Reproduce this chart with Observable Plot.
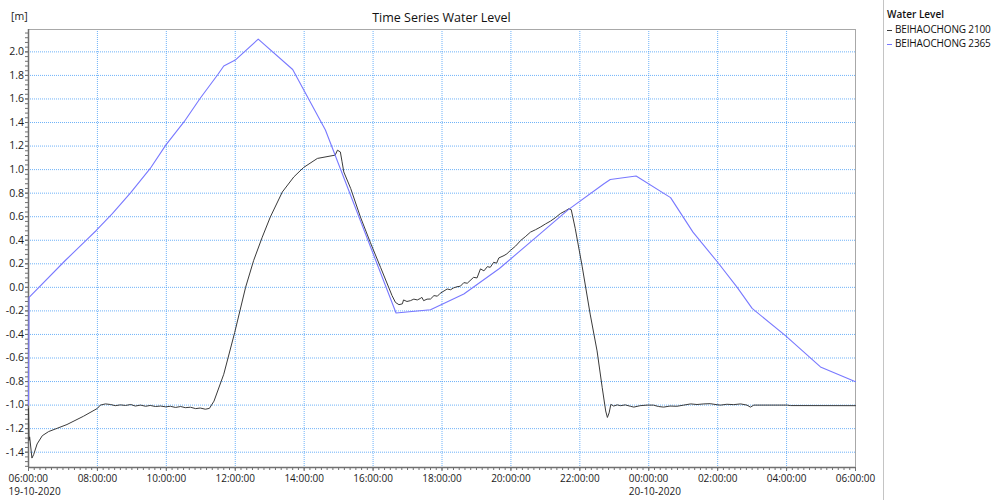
<!DOCTYPE html>
<html>
<head>
<meta charset="utf-8">
<script src="https://cdn.jsdelivr.net/npm/d3@7"></script>
<script src="https://cdn.jsdelivr.net/npm/@observablehq/plot@0.6"></script>
<style>
  body { margin: 0; background: #fff; font-family: "Open Sans", sans-serif; }
  #fig { position: relative; width: 997px; height: 500px; overflow: hidden; }
  #fig svg { position: absolute; left: 0; top: 0; }
  .title { position: absolute; left: 28px; width: 827px; top: 10px; text-align: center; font-size: 12.5px; line-height: 16px; color: #111; }
  .unit { position: absolute; left: 11px; top: 9px; font-size: 10.5px; line-height: 14px; color: #222; }
  #legend { position: absolute; left: 883px; top: 0; width: 114px; height: 500px; border-left: 1px solid #c4c4c4; font-size: 10px; line-height: 14px; color: #111; }
  #legend .head { position: absolute; left: 3px; top: 7px; font-weight: 600; }
  #legend .item { position: absolute; left: 3px; white-space: nowrap; letter-spacing: -0.15px; }
  #legend .sw { display: inline-block; width: 5px; height: 1px; vertical-align: middle; margin-right: 3px; }
</style>
</head>
<body>
<div id="fig">
  <div class="unit">[m]</div>
  <div class="title">Time Series Water Level</div>
  <div id="legend"><div class="head">Water Level</div></div>
</div>
<script>
// Series names and colours
const seriesNames = ["BEIHAOCHONG 2100", "BEIHAOCHONG 2365"];
const seriesColors = ["#3a3a3a", "#7878ff"];

// BEIHAOCHONG 2100: minutes after 19-10-2020 06:00 and water level [m]
const t2100 = [0, 1, 2, 6, 9, 15, 24, 35, 67, 96, 120, 125, 134, 143, 151, 160, 169, 178, 186, 195,
  204, 212, 221, 230, 239, 247, 256, 265, 273, 282, 291, 299, 308, 315, 323, 340, 359, 378, 392, 407,
  421, 442, 462, 479, 503, 534, 538, 543, 546, 549, 561, 578, 595, 613, 633, 639, 645, 651, 653, 659,
  665, 671, 677, 682, 685, 688, 694, 700, 706, 712, 717, 729, 735, 740, 746, 752, 758, 764, 775, 781,
  787, 793, 799, 804, 810, 815, 819, 828, 833, 839, 848, 857, 865, 874, 883, 891, 900, 909, 917, 926,
  935, 941, 945, 952, 964, 978, 990, 999, 1005, 1008, 1011, 1014, 1019, 1025, 1031, 1039, 1048, 1054, 1065, 1077,
  1088, 1097, 1106, 1117, 1129, 1141, 1153, 1164, 1176, 1187, 1199, 1205, 1216, 1228, 1240, 1251, 1257, 1263, 1321, 1327,
  1440];
const v2100 = [-1.03, -1.30, -1.27, -1.45, -1.42, -1.33, -1.26, -1.225, -1.165, -1.094, -1.028, -1.0, -0.99, -0.995, -1.005, -0.998, -1.003, -0.995, -1.008, -1.0,
  -1.01, -1.003, -1.012, -1.008, -1.015, -1.01, -1.02, -1.012, -1.022, -1.018, -1.03, -1.025, -1.035, -1.028, -0.966, -0.738, -0.384, 0.0, 0.228, 0.426,
  0.597, 0.81, 0.938, 1.018, 1.095, 1.123, 1.165, 1.15, 1.066, 0.98, 0.84, 0.597, 0.384, 0.17, -0.07, -0.128, -0.147, -0.14, -0.107, -0.12,
  -0.113, -0.1, -0.107, -0.095, -0.085, -0.113, -0.1, -0.099, -0.07, -0.075, -0.05, -0.014, -0.02, -0.005, 0.005, 0.01, 0.04, 0.035, 0.085, 0.08,
  0.157, 0.14, 0.176, 0.17, 0.213, 0.205, 0.25, 0.27, 0.285, 0.313, 0.35, 0.398, 0.43, 0.469, 0.49, 0.511, 0.538, 0.563, 0.59, 0.626,
  0.65, 0.668, 0.66, 0.5, 0.18, -0.227, -0.54, -0.852, -1.05, -1.105, -1.066, -0.994, -1.008, -0.998, -1.005, -0.998, -1.01, -1.017, -1.005, -1.0,
  -1.0, -1.012, -1.017, -1.008, -1.01, -1.0, -0.99, -0.995, -0.99, -0.988, -0.997, -1.0, -0.993, -0.996, -0.99, -1.0, -1.017, -1.0, -1.0, -1.004,
  -1.005];

// BEIHAOCHONG 2365: minutes after 19-10-2020 06:00 and water level [m]
const t2365 = [0, 1, 64, 102, 118, 146, 178, 212, 239, 271, 299, 330, 340, 360, 400, 460, 517, 640, 700, 758,
  820, 880, 940, 1002, 1013, 1058, 1118, 1157, 1200, 1234, 1260, 1318, 1379, 1437, 1440];
const v2365 = [-1.0, -0.085, 0.228, 0.407, 0.483, 0.626, 0.805, 1.01, 1.208, 1.407, 1.606, 1.81, 1.88, 1.93, 2.108, 1.85, 1.336, -0.218, -0.19, -0.056,
  0.16, 0.41, 0.66, 0.88, 0.916, 0.946, 0.762, 0.469, 0.213, 0.0, -0.179, -0.41, -0.676, -0.795, -0.80];

// Axis ticks
const yTicks = [-1.4, -1.2, -1.0, -0.8, -0.6, -0.4, -0.2, 0.0, 0.2, 0.4, 0.6, 0.8, 1.0, 1.2, 1.4, 1.6, 1.8, 2.0];
const xTickHours = [0, 2, 4, 6, 8, 10, 12, 14, 16, 18, 20, 22, 24];
const dateTickHours = [0, 18];

const start = new Date(2020, 9, 19, 6, 0, 0);
const atMinute = m => new Date(start.getTime() + m * 60000);

const rows = [];
t2100.forEach((m, i) => rows.push({series: seriesNames[0], time: atMinute(m), level: v2100[i]}));
t2365.forEach((m, i) => rows.push({series: seriesNames[1], time: atMinute(m), level: v2365[i]}));

const xDomain = [atMinute(0), atMinute(1440)];
const yDomain = [-1.53, 2.19];
const xTicks = xTickHours.map(h => atMinute(h * 60));
const xMinor = d3.range(0, 1441, 10).map(atMinute);
const yMinor = d3.range(-1.52, 2.18, 0.04);
const dateTicks = dateTickHours.map(h => atMinute(h * 60));
const isDateTick = d => dateTicks.some(t => +t === +d);

const gridStyle = {stroke: "#3d98f5", strokeOpacity: 0.75, strokeDasharray: "1,1"};
const fmtTime = d3.timeFormat("%H:%M:%S");
const fmtDate = d3.timeFormat("%d-%m-%Y");

const chart = Plot.plot({
  width: 997,
  height: 500,
  marginLeft: 28,
  marginRight: 142,
  marginTop: 29,
  marginBottom: 33,
  style: {fontFamily: "'Open Sans', sans-serif", fontSize: "10px", color: "#1a1a1a", background: "transparent"},
  x: {type: "time", domain: xDomain, axis: null},
  y: {domain: yDomain, axis: null},
  color: {domain: seriesNames, range: seriesColors},
  marks: [
    Plot.gridX(xTicks, gridStyle),
    Plot.gridY(yTicks, gridStyle),
    Plot.frame({stroke: "#a8a8a8"}),
    Plot.ruleX([xDomain[0]], {stroke: "#707070", strokeWidth: 1.5}),
    Plot.ruleY([yDomain[0]], {stroke: "#707070", strokeWidth: 1.5}),
    Plot.axisX(xMinor, {tickSize: 3, tickFormat: () => "", label: null, stroke: "#707070"}),
    Plot.axisY(yMinor, {tickSize: 3, tickFormat: () => "", label: null, stroke: "#707070"}),
    // time labels; the two day-start ticks get a two-line label with the date below
    Plot.axisX(xTicks, {tickSize: 4, tickPadding: 3, tickFormat: d => isDateTick(d) ? "" : fmtTime(d), label: null, stroke: "#707070", fontSize: 10}),
    Plot.text(dateTicks, {x: d => d, frameAnchor: "bottom", lineAnchor: "top", dy: 4.5, dx: -20, textAnchor: "start",
      lineHeight: 1.35, fontSize: 10, text: d => fmtTime(d) + "\n" + fmtDate(d)}),
    Plot.axisY(yTicks, {tickSize: 3, tickPadding: 1.5, tickFormat: d => d.toFixed(1), label: null, stroke: "#707070", fontSize: 10.5}),
    Plot.line(rows.filter(d => d.series === seriesNames[0]), {x: "time", y: "level", stroke: "series", strokeWidth: 1}),
    Plot.line(rows.filter(d => d.series === seriesNames[1]), {x: "time", y: "level", stroke: "series", strokeWidth: 1.1})
  ]
});
document.getElementById("fig").prepend(chart);

// Legend entries
const legend = document.getElementById("legend");
seriesNames.forEach((name, i) => {
  const item = document.createElement("div");
  item.className = "item";
  item.style.top = (22 + i * 14) + "px";
  const sw = document.createElement("span");
  sw.className = "sw";
  sw.style.background = seriesColors[i];
  item.appendChild(sw);
  item.appendChild(document.createTextNode(name));
  legend.appendChild(item);
});
</script>
</body>
</html>
